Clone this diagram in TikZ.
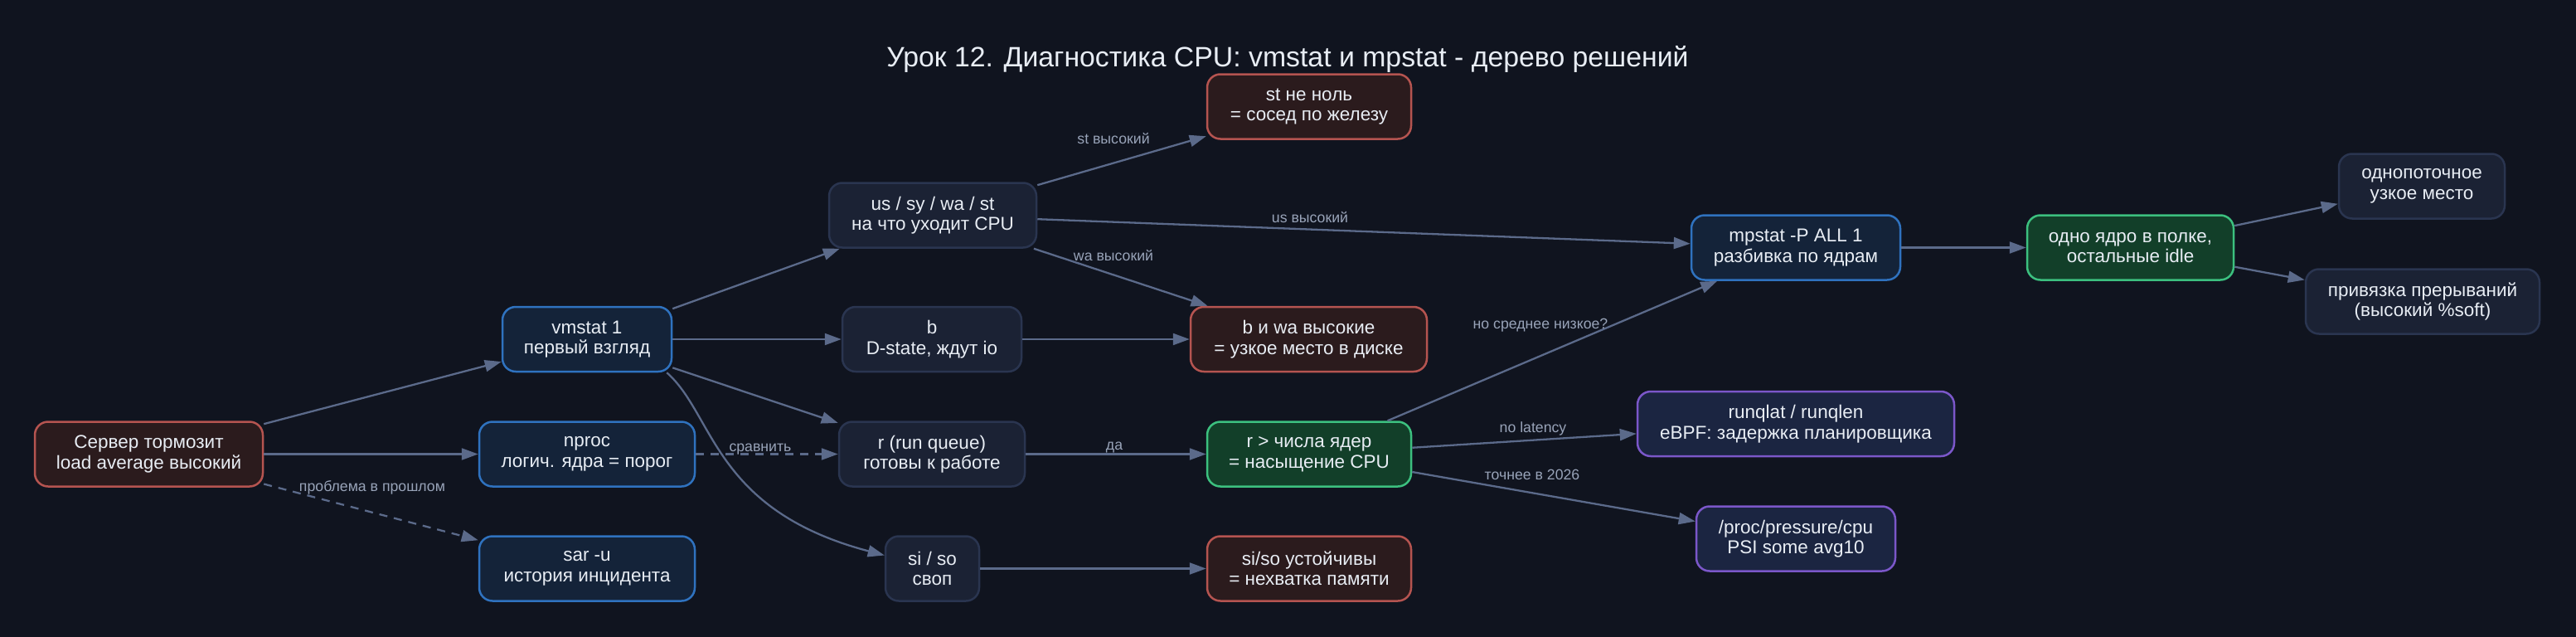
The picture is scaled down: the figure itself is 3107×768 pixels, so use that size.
\documentclass[tikz,border=0pt]{standalone}
\usepackage{fontspec}
\setmainfont{Liberation Sans}
\usetikzlibrary{arrows.meta}
\definecolor{bgc}{HTML}{10141F}
\definecolor{txtc}{HTML}{E8EDF4}
\definecolor{lblc}{HTML}{98A3B8}
\definecolor{edgec}{HTML}{5B6A8A}
\definecolor{redfill}{HTML}{2B1B1D}
\definecolor{redline}{HTML}{B55450}
\definecolor{bluefill}{HTML}{142339}
\definecolor{blueline}{HTML}{2F72BF}
\definecolor{grayfill}{HTML}{1B2234}
\definecolor{grayline}{HTML}{2A3550}
\definecolor{greenfill}{HTML}{123F29}
\definecolor{greenline}{HTML}{3CC07F}
\definecolor{purpfill}{HTML}{1B2541}
\definecolor{purpline}{HTML}{7B57C9}
\newcommand{\nodefont}{\fontsize{22.5}{24.5}\selectfont}
\newcommand{\lblfont}{\fontsize{17.7}{20}\selectfont}
\newcommand{\titlefont}{\fontsize{33.8}{38}\selectfont}
\tikzset{
  base/.style={rectangle, rounded corners=16pt, line width=2.5pt, minimum height=78pt,
    align=center, font=\nodefont, text=txtc, inner sep=0pt},
  nred/.style={base, draw=redline, fill=redfill},
  nblue/.style={base, draw=blueline, fill=bluefill},
  ngray/.style={base, draw=grayline, fill=grayfill},
  ngreen/.style={base, draw=greenline, fill=greenfill},
  npurple/.style={base, draw=purpline, fill=purpfill},
  edge/.style={draw=edgec, line width=2.3pt, -{Triangle[length=20pt,width=14pt]}},
  dashedge/.style={edge, dash pattern=on 10pt off 8pt},
  lbl/.style={font=\lblfont, text=lblc, inner sep=0pt},
}
\begin{document}
\begin{tikzpicture}[x=1pt,y=-1pt]
\fill[bgc] (0,0) rectangle (3107,768);
\useasboundingbox (0,0) rectangle (3107,768);

\node[font=\titlefont, text=txtc] (title) at (1553,71) {Урок 12. Диагностика CPU: vmstat и mpstat - дерево решений};

\node[nred, minimum width=275pt] (srv) at (179.5,547.5) {Сервер тормозит\\load average высокий};
\node[nblue, minimum width=204pt] (vm) at (708,409) {vmstat 1\\первый взгляд};
\node[nblue, minimum width=260pt] (np) at (708,547.5) {nproc\\логич. ядра = порог};
\node[nblue, minimum width=260pt] (sar) at (708,685.5) {sar -u\\история инцидента};
\node[ngray, minimum width=250pt] (usy) at (1125,259.5) {us / sy / wa / st\\на что уходит CPU};
\node[ngray, minimum width=216pt] (b) at (1124,409) {b\\D-state, ждут io};
\node[ngray, minimum width=224pt] (rq) at (1124,547.5) {r (run queue)\\готовы к работе};
\node[ngray, minimum width=113pt] (si) at (1124.5,685.5) {si / so\\своп};
\node[nred, minimum width=246pt] (st) at (1579,128.5) {st не ноль\\= сосед по железу};
\node[nred, minimum width=285pt] (bwa) at (1578.5,409) {b и wa высокие\\= узкое место в диске};
\node[ngreen, minimum width=246pt] (rgt) at (1579,547.5) {r > числа ядер\\= насыщение CPU};
\node[nred, minimum width=246pt] (sis) at (1579,685.5) {si/so устойчивы\\= нехватка памяти};
\node[nblue, minimum width=252pt] (mp) at (2166,298.5) {mpstat -P ALL 1\\разбивка по ядрам};
\node[npurple, minimum width=382pt] (rql) at (2166,511) {runqlat / runqlen\\eBPF: задержка планировщика};
\node[npurple, minimum width=240pt] (psi) at (2166,649.5) {/proc/pressure/cpu\\PSI some avg10};
\node[ngreen, minimum width=249pt] (core) at (2569.5,298.5) {одно ядро в полке,\\остальные idle};
\node[ngray, minimum width=200pt] (one) at (2921,224.5) {однопоточное\\узкое место};
\node[ngray, minimum width=282pt] (irq) at (2922,363.5) {привязка прерываний\\(высокий \%soft)};

\draw[edge] (srv) -- (vm);
\draw[edge] (srv) -- (np);
\draw[dashedge] (srv) -- (sar);
\draw[edge] (vm) -- (usy);
\draw[edge] (vm) -- (b);
\draw[edge] (vm) -- (rq);
\draw[edge] ([xshift=-7pt]vm.south east) .. controls (862,500) and (860,615) .. ([yshift=16pt]si.west);
\draw[dashedge] (np) -- (rq);
\draw[edge] (usy) -- (st);
\draw[edge] (usy) -- (mp);
\draw[edge] (usy) -- (bwa);
\draw[edge] (b) -- (bwa);
\draw[edge] (rq) -- (rgt);
\draw[edge] (si) -- (sis);
\draw[edge] (rgt) -- (mp);
\draw[edge] (rgt) -- (rql);
\draw[edge] (rgt) -- (psi);
\draw[edge] (mp) -- (core);
\draw[edge] (core) -- (one);
\draw[edge] (core) -- (irq);

\node[lbl] (l1) at (449,588) {проблема в прошлом};
\node[lbl] (l2) at (917,542) {сравнить};
\node[lbl] (l3) at (1343,167) {st высокий};
\node[lbl] (l4) at (1580,262) {us высокий};
\node[lbl] (l5) at (1343,308) {wa высокий};
\node[lbl] (l6) at (1344,539) {да};
\node[lbl] (l7) at (1858,392) {но среднее низкое?};
\node[lbl] (l8) at (1849,517) {no latency};
\node[lbl] (l9) at (1848,572) {точнее в 2026};
\end{tikzpicture}
\end{document}
